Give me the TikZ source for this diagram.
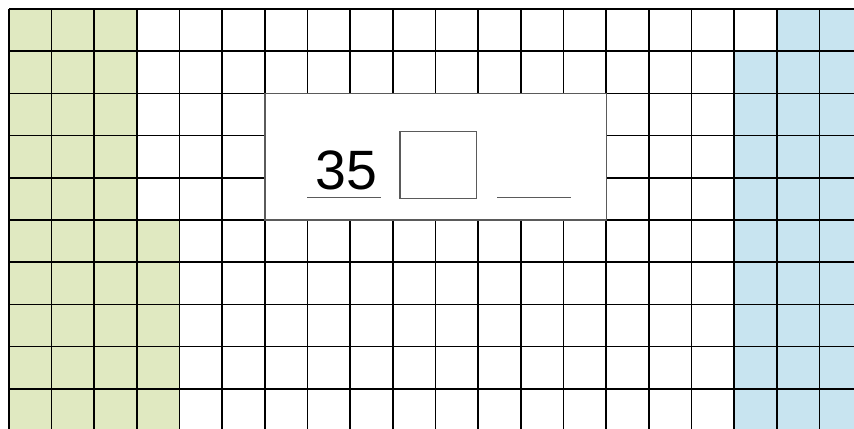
\documentclass[tikz,border=0pt]{standalone}
\usepackage{fontspec}
\setmainfont{Liberation Sans}
\definecolor{cellgreen}{RGB}{224,233,193}
\definecolor{cellblue}{RGB}{200,228,240}
\definecolor{boxgray}{RGB}{90,90,90}

\begin{document}
\begin{tikzpicture}[x=1cm,y=0.9894cm,line width=1.1pt]
\useasboundingbox (-0.211,0.213) rectangle (19.812,-9.953);
\clip (-0.211,0.213) rectangle (19.812,-9.953);
% coloured columns
\fill[cellgreen] (0,0) rectangle (3,-5); \fill[cellgreen] (0,-5) rectangle (4,-11);
\fill[cellblue] (18,0) rectangle (21,-11); \fill[cellblue] (17,-1) rectangle (18,-11);
% grid
\foreach \i in {0,...,20} \draw (\i,0)--(\i,-11);
\foreach \j in {0,...,10} \draw (0,-\j)--(21,-\j);
% white panel
\draw[boxgray,fill=white,line width=0.8pt] (6,-2) rectangle (14,-5);
\node[anchor=base] (num) at (7.911,-4.289) {\fontsize{37}{40}\selectfont 35};
\draw[boxgray,line width=0.7pt] (6.987,-4.472)--(8.715,-4.472);
\node[draw=boxgray,line width=0.8pt,minimum width=1.798cm,minimum height=1.561cm] (ansbox) at (10.067,-3.697) {};
\draw[boxgray,line width=0.7pt] (11.449,-4.472)--(13.170,-4.472);
\end{tikzpicture}
\end{document}
